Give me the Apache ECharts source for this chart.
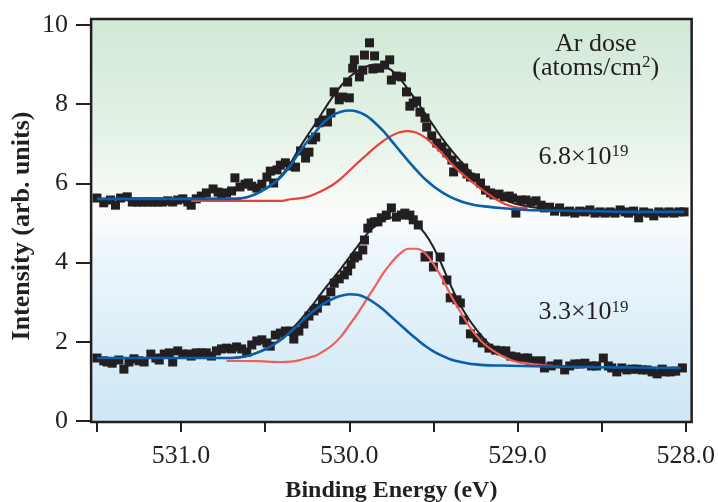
<!DOCTYPE html>
<html><head><meta charset="utf-8">
<script src="https://cdn.jsdelivr.net/npm/echarts@6/dist/echarts.min.js"></script>
<style>html,body{margin:0;padding:0;background:#fff}#c{width:718px;height:502px}</style>
</head><body><div id="c"></div>
<script>
// ---- data (binding energy eV, intensity arb. units) ----
const xTickLabels = ['531.0', '530.0', '529.0', '528.0'];
const yTickValues = [0, 2, 4, 6, 8, 10];

const topPoints = [[531.50,5.63],[531.46,5.51],[531.42,5.58],[531.39,5.45],[531.36,5.63],[531.32,5.66],[531.29,5.53],[531.26,5.53],[531.23,5.53],[531.20,5.53],[531.17,5.53],[531.14,5.53],[531.11,5.53],[531.08,5.56],[531.05,5.53],[531.02,5.58],[530.99,5.61],[530.96,5.53],[530.94,5.45],[530.91,5.61],[530.88,5.68],[530.85,5.76],[530.81,5.86],[530.78,5.78],[530.76,5.73],[530.73,5.76],[530.70,5.81],[530.68,6.14],[530.65,5.91],[530.62,5.98],[530.60,6.01],[530.58,5.93],[530.55,5.88],[530.52,5.98],[530.49,6.16],[530.47,6.31],[530.45,6.01],[530.43,6.34],[530.41,6.46],[530.38,6.52],[530.35,6.44],[530.32,6.41],[530.29,6.82],[530.26,6.64],[530.24,6.79],[530.22,7.10],[530.20,7.17],[530.18,7.53],[530.15,7.60],[530.13,7.55],[530.11,7.78],[530.09,8.31],[530.06,8.11],[530.04,8.18],[530.01,8.56],[530.00,8.16],[529.98,8.91],[529.97,9.12],[529.94,8.69],[529.92,8.86],[529.91,9.24],[529.88,9.55],[529.86,8.89],[529.85,9.22],[529.82,8.91],[529.79,8.99],[529.76,9.12],[529.75,8.61],[529.72,8.71],[529.69,8.69],[529.66,8.31],[529.64,7.95],[529.62,8.03],[529.60,8.08],[529.58,7.80],[529.55,7.65],[529.54,7.42],[529.51,7.20],[529.48,7.02],[529.45,6.92],[529.42,6.77],[529.39,6.59],[529.38,6.29],[529.35,6.44],[529.32,6.39],[529.30,6.24],[529.28,6.16],[529.25,6.14],[529.22,6.01],[529.19,5.83],[529.16,5.76],[529.14,5.71],[529.11,5.73],[529.08,5.66],[529.05,5.68],[529.03,5.63],[529.01,5.25],[528.98,5.58],[528.95,5.58],[528.92,5.53],[528.89,5.56],[528.86,5.45],[528.84,5.38],[528.81,5.40],[528.78,5.30],[528.75,5.38],[528.72,5.28],[528.69,5.30],[528.66,5.25],[528.63,5.30],[528.60,5.28],[528.57,5.33],[528.54,5.25],[528.51,5.28],[528.48,5.25],[528.45,5.28],[528.42,5.25],[528.39,5.33],[528.36,5.28],[528.34,5.25],[528.31,5.30],[528.28,5.13],[528.25,5.28],[528.22,5.25],[528.19,5.18],[528.16,5.28],[528.13,5.25],[528.10,5.28],[528.07,5.25],[528.04,5.28],[528.01,5.28]];

const topFit = [[531.50,5.61],[531.00,5.61],[530.70,5.61],[530.65,5.62],[530.60,5.66],[530.55,5.74],[530.50,5.86],[530.45,6.01],[530.40,6.22],[530.35,6.51],[530.30,6.87],[530.25,7.20],[530.20,7.52],[530.15,7.86],[530.10,8.18],[530.05,8.46],[530.00,8.68],[529.95,8.84],[529.90,8.95],[529.85,9.00],[529.80,8.98],[529.75,8.86],[529.70,8.65],[529.65,8.37],[529.60,8.08],[529.55,7.77],[529.50,7.46],[529.45,7.15],[529.40,6.87],[529.35,6.62],[529.30,6.38],[529.25,6.15],[529.20,5.94],[529.15,5.77],[529.10,5.64],[529.05,5.54],[529.00,5.47],[528.90,5.39],[528.70,5.33],[528.54,5.30],[528.30,5.29],[528.01,5.28]];

const topBlue = [[531.50,5.61],[531.00,5.61],[530.70,5.61],[530.65,5.62],[530.60,5.66],[530.55,5.74],[530.50,5.86],[530.45,6.00],[530.40,6.19],[530.35,6.45],[530.30,6.77],[530.25,7.05],[530.20,7.31],[530.15,7.55],[530.10,7.72],[530.05,7.81],[530.00,7.84],[529.95,7.81],[529.90,7.71],[529.85,7.54],[529.80,7.33],[529.75,7.08],[529.70,6.82],[529.65,6.57],[529.60,6.33],[529.55,6.11],[529.50,5.93],[529.45,5.78],[529.40,5.66],[529.35,5.57],[529.30,5.50],[529.25,5.45],[529.20,5.42],[529.10,5.38],[528.95,5.33],[528.70,5.31],[528.54,5.30],[528.30,5.28],[528.01,5.28]];

const topRed = [[530.94,5.56],[530.70,5.56],[530.40,5.56],[530.35,5.60],[530.30,5.62],[530.25,5.66],[530.20,5.74],[530.15,5.84],[530.10,5.96],[530.05,6.12],[530.00,6.32],[529.95,6.52],[529.90,6.71],[529.85,6.90],[529.80,7.07],[529.75,7.20],[529.70,7.29],[529.65,7.32],[529.60,7.28],[529.55,7.16],[529.50,6.98],[529.45,6.76],[529.40,6.53],[529.35,6.32],[529.30,6.14],[529.25,5.97],[529.20,5.81],[529.15,5.66],[529.10,5.53],[529.05,5.44],[529.00,5.39],[528.94,5.38]];

const bottomPoints = [[531.50,1.59],[531.46,1.52],[531.44,1.49],[531.41,1.46],[531.37,1.54],[531.34,1.31],[531.31,1.49],[531.28,1.57],[531.25,1.52],[531.22,1.49],[531.18,1.69],[531.15,1.59],[531.13,1.54],[531.10,1.69],[531.07,1.72],[531.05,1.49],[531.02,1.77],[530.99,1.69],[530.96,1.69],[530.94,1.64],[530.91,1.72],[530.88,1.72],[530.85,1.72],[530.82,1.64],[530.79,1.77],[530.76,1.82],[530.73,1.84],[530.70,1.82],[530.67,1.87],[530.64,1.82],[530.61,1.74],[530.58,1.92],[530.55,2.02],[530.52,2.05],[530.49,1.97],[530.47,1.89],[530.44,2.17],[530.41,2.22],[530.38,2.27],[530.35,2.27],[530.33,2.07],[530.30,2.27],[530.27,2.45],[530.24,2.65],[530.21,2.78],[530.19,2.85],[530.16,3.06],[530.14,3.03],[530.11,3.26],[530.09,3.48],[530.06,3.59],[530.03,3.69],[530.01,3.79],[529.99,3.96],[529.97,4.12],[529.95,4.17],[529.92,4.32],[529.91,4.57],[529.89,4.87],[529.87,5.00],[529.85,5.03],[529.83,5.03],[529.81,5.13],[529.78,5.20],[529.75,5.38],[529.72,5.15],[529.69,5.20],[529.67,5.25],[529.64,5.20],[529.62,5.08],[529.59,4.95],[529.55,4.14],[529.53,4.17],[529.50,3.89],[529.46,4.14],[529.42,3.56],[529.40,3.11],[529.36,3.06],[529.34,2.98],[529.32,2.55],[529.28,2.20],[529.24,2.10],[529.21,1.97],[529.17,1.84],[529.13,1.79],[529.10,1.77],[529.07,1.77],[529.04,1.64],[529.01,1.62],[528.96,1.59],[528.94,1.59],[528.91,1.52],[528.86,1.52],[528.84,1.34],[528.80,1.39],[528.76,1.44],[528.72,1.29],[528.69,1.39],[528.66,1.44],[528.63,1.44],[528.60,1.46],[528.56,1.39],[528.53,1.39],[528.49,1.59],[528.46,1.39],[528.44,1.34],[528.41,1.24],[528.38,1.34],[528.35,1.29],[528.32,1.31],[528.29,1.31],[528.26,1.29],[528.23,1.29],[528.20,1.24],[528.17,1.19],[528.14,1.31],[528.12,1.24],[528.09,1.24],[528.06,1.26],[528.02,1.34]];

const bottomFit = [[531.50,1.59],[531.00,1.59],[530.70,1.59],[530.65,1.61],[530.60,1.65],[530.55,1.72],[530.50,1.82],[530.45,1.95],[530.40,2.09],[530.35,2.29],[530.30,2.51],[530.25,2.76],[530.20,3.03],[530.15,3.32],[530.10,3.58],[530.05,3.85],[530.00,4.13],[529.95,4.42],[529.90,4.70],[529.85,4.91],[529.80,5.06],[529.75,5.14],[529.70,5.16],[529.65,5.11],[529.60,4.97],[529.55,4.73],[529.50,4.39],[529.45,3.94],[529.40,3.45],[529.35,3.00],[529.30,2.64],[529.25,2.34],[529.20,2.08],[529.15,1.87],[529.10,1.71],[529.05,1.59],[529.00,1.50],[528.95,1.45],[528.86,1.39],[528.70,1.37],[528.54,1.36],[528.30,1.35],[528.03,1.34]];

const bottomBlue = [[531.50,1.59],[531.00,1.59],[530.70,1.59],[530.65,1.61],[530.60,1.65],[530.55,1.72],[530.50,1.81],[530.45,1.93],[530.40,2.07],[530.35,2.25],[530.30,2.45],[530.25,2.64],[530.20,2.82],[530.15,2.97],[530.10,3.08],[530.05,3.16],[530.00,3.20],[529.95,3.19],[529.90,3.11],[529.85,2.98],[529.80,2.82],[529.75,2.63],[529.70,2.44],[529.65,2.25],[529.60,2.07],[529.55,1.90],[529.50,1.76],[529.45,1.65],[529.40,1.56],[529.35,1.50],[529.30,1.46],[529.25,1.43],[529.20,1.41],[529.10,1.40],[528.97,1.39],[528.70,1.37],[528.54,1.36],[528.30,1.35],[528.03,1.34]];

const bottomRed = [[530.73,1.52],[530.55,1.51],[530.40,1.49],[530.35,1.50],[530.30,1.53],[530.25,1.59],[530.20,1.65],[530.15,1.77],[530.10,1.92],[530.05,2.13],[530.00,2.42],[529.95,2.72],[529.90,3.05],[529.85,3.38],[529.80,3.72],[529.75,4.00],[529.70,4.22],[529.65,4.35],[529.60,4.35],[529.55,4.24],[529.50,3.97],[529.45,3.62],[529.40,3.20],[529.35,2.83],[529.30,2.48],[529.25,2.18],[529.20,1.95],[529.15,1.79],[529.10,1.66],[529.05,1.56],[529.00,1.49],[528.95,1.46],[528.90,1.43],[528.85,1.41],[528.79,1.39]];

const annotTitle = ['Ar dose', '(atoms/cm', '2', ')'];
const doseLabels = [['6.8\u00d710', '19'], ['3.3\u00d710', '19']];
const doseLevels = [6.67, 2.75]; // y positions (data units) of the dose labels

// ---- chart ----
const SERIF = "'Liberation Serif', 'Times New Roman', serif";
const INK = '#231f20';
const chart = echarts.init(document.getElementById('c'), null, {renderer: 'canvas'});

function lineSeries(data, color, width, z) {
  return {type: 'line', data: data, showSymbol: false, symbol: 'none', smooth: 0.3, clip: false,
    lineStyle: {color: color, width: width, opacity: 1}, z: z, silent: true};
}
function scatterSeries(data) {
  return {type: 'scatter', data: data, symbol: 'rect', symbolSize: 9, clip: false,
    itemStyle: {color: INK, opacity: 1}, z: 2, silent: true};
}

const option = {
  animation: false,
  backgroundColor: '#ffffff',
  grid: {left: 97, right: 31, top: 25, bottom: 81},
  xAxis: {
    type: 'value', inverse: true, min: 528, max: 531.5, interval: 0.5, offset: 1,
    axisLine: {show: false},
    axisTick: {show: true, inside: false, length: 11, lineStyle: {color: INK, width: 2}},
    splitLine: {show: false},
    axisLabel: {margin: 21, color: INK, fontFamily: SERIF, fontSize: 26,
      formatter: function (v) { const s = v.toFixed(1); return xTickLabels.indexOf(s) >= 0 ? s : ''; }}
  },
  yAxis: {
    type: 'value', min: 0, max: 10, interval: 2, offset: 6,
    axisLine: {show: false},
    axisTick: {show: true, inside: false, length: 15, lineStyle: {color: INK, width: 2}},
    splitLine: {show: false},
    axisLabel: {margin: 23, color: INK, fontFamily: SERIF, fontSize: 26,
      formatter: function (v) { return yTickValues.indexOf(v) >= 0 ? String(v) : ''; }}
  },
  series: [
    scatterSeries(topPoints),
    scatterSeries(bottomPoints),
    lineSeries(topFit, INK, 2, 3),
    lineSeries(bottomFit, INK, 2, 3),
    lineSeries(topRed, '#e8403b', 2.2, 4),
    lineSeries(bottomRed, '#ef5e58', 2.2, 4),
    lineSeries(topBlue, '#0b5eab', 2.6, 5),
    lineSeries(bottomBlue, '#0b5eab', 2.6, 5)
  ],
  graphic: []
};
chart.setOption(option);

// plot frame / background derived from the axis extents
const p0 = chart.convertToPixel({gridIndex: 0}, [531.535, 10.15]);
const p1 = chart.convertToPixel({gridIndex: 0}, [527.965, -0.025]);
const fx = p0[0], fy = p0[1], fw = p1[0] - p0[0], fh = p1[1] - p0[1];
const annX = chart.convertToPixel({gridIndex: 0}, [528.535, 0])[0];
const doseX = chart.convertToPixel({gridIndex: 0}, [528.876, 0])[0];

const graphics = [
  {type: 'rect', z: -10, silent: true, shape: {x: fx, y: fy, width: fw, height: fh},
    style: {fill: new echarts.graphic.LinearGradient(0, 0, 0, 1, [
      {offset: 0, color: '#d1e8d6'}, {offset: 0.25, color: '#e2f1e4'}, {offset: 0.47, color: '#f9fcf9'},
      {offset: 0.5, color: '#fbfdfe'}, {offset: 0.56, color: '#eef7fc'}, {offset: 1, color: '#cde7f5'}])}},
  {type: 'rect', z: 100, silent: true, shape: {x: fx, y: fy, width: fw, height: fh},
    style: {fill: null, stroke: INK, lineWidth: 2.5}},
  {type: 'text', z: 100, silent: true, x: 22, y: 226, rotation: Math.PI / 2,
    style: {text: 'Intensity (arb. units)', font: 'bold 26px ' + SERIF, fill: INK, align: 'center', verticalAlign: 'middle'}},
  {type: 'text', z: 100, silent: true, x: (fx + fx + fw) / 2, y: 491,
    style: {text: 'Binding Energy (eV)', font: 'bold 24px ' + SERIF, fill: INK, align: 'center', verticalAlign: 'middle'}},
  {type: 'text', z: 100, silent: true, x: annX, y: 44,
    style: {text: annotTitle[0], font: '26px ' + SERIF, fill: INK, align: 'center', verticalAlign: 'middle'}},
  {type: 'text', z: 100, silent: true, x: annX, y: 68,
    style: {text: '{n|' + annotTitle[1] + '}{s|' + annotTitle[2] + '}{n|' + annotTitle[3] + '}', align: 'center', verticalAlign: 'middle',
      rich: {n: {font: '26px ' + SERIF, fill: INK, color: INK, lineHeight: 28},
             s: {font: '17px ' + SERIF, fill: INK, color: INK, padding: [0, 0, 10, 0], lineHeight: 17}}}}
];
doseLabels.forEach(function (d, i) {
  const yy = chart.convertToPixel({gridIndex: 0}, [529, doseLevels[i]])[1];
  graphics.push({type: 'text', z: 100, silent: true, x: doseX, y: yy,
    style: {text: '{n|' + d[0] + '}{s|' + d[1] + '}', align: 'left', verticalAlign: 'middle',
      rich: {n: {font: '26px ' + SERIF, fill: INK, color: INK, lineHeight: 28},
             s: {font: '17px ' + SERIF, fill: INK, color: INK, padding: [0, 0, 10, 0], lineHeight: 17}}}});
});
chart.setOption({graphic: graphics});
</script>
</body></html>
